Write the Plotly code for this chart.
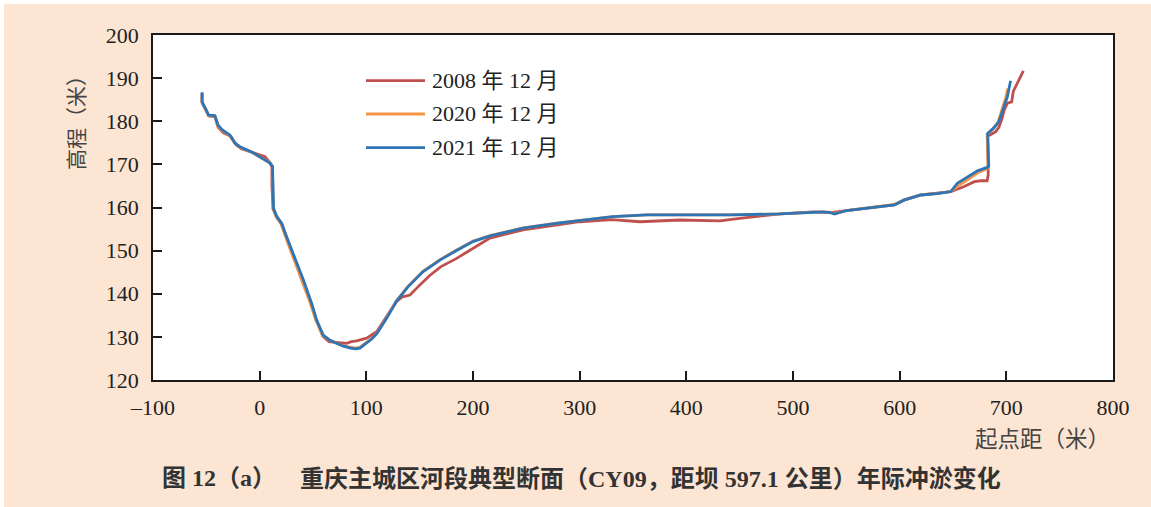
import plotly.graph_objects as go

# ---------------- data ----------------
x_2021 = [-54, -54, -50, -48, -42, -39, -35, -28, -23, -18.5, -7.5, 0, 5, 9.7, 12, 12.5, 13, 16, 20.6, 24,
          31.5, 41, 48.7, 53.4, 59.6, 66, 72, 78, 85, 90, 94, 100, 105, 110, 119, 128, 139, 153, 169, 185,
          200, 216, 247, 278, 300, 331, 363, 394, 441, 488, 519, 528, 535, 539, 550, 582, 595, 604, 620, 635,
          648, 654, 663, 673, 682, 683.5, 682.5, 688, 693, 698, 701, 704]
y_2021 = [186.7, 184.5, 182.6, 181.4, 181.3, 179.1, 178.0, 176.8, 174.9, 174.1, 172.9, 171.8, 171.0, 170.3, 169.5, 165.0, 159.8, 157.9, 156.3, 154.0,
          149.4, 143.2, 137.8, 133.9, 130.4, 129.2, 128.5, 127.9, 127.4, 127.2, 127.4, 128.5, 129.5, 130.8, 134.3, 138.2, 141.6, 145.1, 147.8, 150.1,
          152.1, 153.4, 155.2, 156.3, 156.9, 157.9, 158.3, 158.3, 158.3, 158.5, 159.0, 159.0, 158.8, 158.5, 159.3, 160.2, 160.6, 161.7, 162.9, 163.2,
          163.7, 165.6, 167.0, 168.5, 169.3, 169.6, 177.2, 178.4, 179.9, 183.4, 185.7, 189.4]

x_2020 = [-54, -54, -50, -48, -42, -39, -35, -28, -23, -18.5, -7.5, 0, 5, 9.7, 12, 12.3, 12.8, 15.5, 20, 23,
          30, 39.5, 47.5, 52.5, 59, 66, 72, 78, 85, 90, 94, 100, 105, 110, 119, 128, 139, 153, 169, 185,
          200, 216, 247, 278, 300, 331, 363, 394, 441, 488, 519, 528, 535, 539, 550, 582, 595, 604, 620, 635,
          648, 655, 664, 673, 681, 683, 682, 687, 692, 697, 699.5, 701.4]
y_2020 = [186.4, 184.4, 182.5, 181.3, 181.2, 178.8, 177.8, 176.6, 174.8, 174.0, 172.8, 171.8, 171.2, 170.4, 169.6, 165.0, 159.7, 157.8, 156.2, 154.0,
          149.4, 143.2, 137.8, 133.9, 130.4, 129.2, 128.5, 127.9, 127.6, 127.4, 127.6, 128.6, 129.6, 130.9, 134.4, 138.3, 141.7, 145.2, 147.9, 150.2,
          152.2, 153.5, 155.3, 156.4, 157.0, 157.9, 158.3, 158.3, 158.3, 158.5, 159.0, 159.0, 158.9, 158.6, 159.3, 160.2, 160.7, 161.8, 163.0, 163.2,
          163.7, 165.0, 166.5, 168.0, 168.9, 169.3, 176.9, 178.1, 179.6, 183.2, 185.5, 187.6]

x_2008 = [-54, -54, -50, -47, -42, -39, -34, -27, -22, -17, -7, 0, 5, 9, 11.5, 11.5, 12.5, 16, 20.6, 24,
          31, 40, 48, 53, 59, 65, 69, 75, 81.6, 86, 90.9, 100.3, 109.7, 119, 128.4, 134, 140.9, 150, 159.7, 170,
          184.7, 197.1, 215.9, 247, 278, 300, 330, 356.6, 394, 431.5, 450, 488, 519, 535, 550, 582, 595, 604, 620, 648,
          660, 670, 676, 682, 683, 682.5, 684.6, 690, 693, 696, 698, 701, 705, 706.5, 716]
y_2008 = [186.5, 184.3, 182.3, 181.2, 181.1, 178.6, 177.3, 176.5, 174.5, 173.6, 172.8, 172.2, 171.8, 170.6, 169.5, 165.0, 159.6, 157.9, 156.3, 154.0,
          149.0, 143.0, 137.8, 134.0, 130.2, 128.9, 128.8, 128.7, 128.5, 128.9, 129.1, 129.7, 131.2, 134.7, 138.2, 139.3, 139.7, 142.0, 144.3, 146.3,
          148.2, 150.1, 152.9, 154.8, 155.9, 156.7, 157.2, 156.7, 157.1, 156.9, 157.5, 158.5, 159.0, 158.8, 159.3, 160.2, 160.6, 161.7, 162.9, 163.7,
          164.8, 166.0, 166.2, 166.2, 167.5, 176.8, 176.8, 177.6, 178.6, 180.7, 182.6, 184.2, 184.5, 186.9, 191.7]

series_names = ["2008 年 12 月", "2020 年 12 月", "2021 年 12 月"]
series_colors = ["#c0504d", "#f79646", "#2e75b6"]

x_tick_vals = [-100, 0, 100, 200, 300, 400, 500, 600, 700, 800]
x_tick_text = ["–100", "0", "100", "200", "300", "400", "500", "600", "700", "800"]
y_tick_vals = [120, 130, 140, 150, 160, 170, 180, 190, 200]

x_title = "起点距（米）"
y_title = "高程（米）"
caption_a = "图 12（a）"
caption_b = "重庆主城区河段典型断面（CY09，距坝 597.1 公里）年际冲淤变化"

for a, b in [(x_2021, y_2021), (x_2020, y_2020), (x_2008, y_2008)]:
    assert len(a) == len(b)

# ---------------- figure ----------------
OFF = 4                       # page margin (white border) in px
W, H = 1151 - OFF, 507 - OFF
# plot area in page pixels: left 153, right 1113, top 35, bottom 380
ML, MT = 153 - OFF, 35 - OFF
MR = W - (1113 - OFF)
MB = H - (380 - OFF)
PW, PH = W - ML - MR, H - MT - MB

SERIF = "Liberation Serif, Noto Sans CJK SC, serif"
CJK = "Noto Sans CJK SC, sans-serif"

fig = go.Figure()
for xs, ys, name, col in zip([x_2008, x_2020, x_2021], [y_2008, y_2020, y_2021], series_names, series_colors):
    fig.add_trace(go.Scatter(x=xs, y=ys, mode="lines", name=name,
                             line=dict(color=col, width=2.8), showlegend=False))

def px2paper_x(px):          # page px -> paper fraction
    return (px - OFF - ML) / PW

def py2paper_y(py):
    return (H - MB - (py - OFF)) / PH

# manual legend (long line samples like the original)
leg_y = [80.7, 114, 147.7]
for name, col, ly in zip(series_names, series_colors, leg_y):
    fig.add_shape(type="line", xref="paper", yref="paper",
                  x0=px2paper_x(366), x1=px2paper_x(425),
                  y0=py2paper_y(ly), y1=py2paper_y(ly),
                  line=dict(color=col, width=2.8))
    fig.add_annotation(xref="paper", yref="paper", x=px2paper_x(430), y=py2paper_y(ly),
                       text=name, showarrow=False, xanchor="left", yanchor="middle",
                       font=dict(family=SERIF, size=22, color="#222222"))

fig.add_annotation(xref="paper", yref="paper", x=px2paper_x(75), y=py2paper_y(118),
                   text=y_title, textangle=-90, showarrow=False,
                   xanchor="center", yanchor="middle",
                   font=dict(family=CJK, size=21, color="#444444"))
fig.add_annotation(xref="paper", yref="paper", x=px2paper_x(1112), y=py2paper_y(437),
                   text=x_title, showarrow=False, xanchor="right", yanchor="middle",
                   font=dict(family=CJK, size=22.5, color="#444444"))
fig.add_annotation(xref="paper", yref="paper", x=px2paper_x(160), y=py2paper_y(478),
                   text="<b>" + caption_a + "</b>", showarrow=False, xanchor="left", yanchor="middle",
                   font=dict(family=SERIF, size=24, color="#333333"))
fig.add_annotation(xref="paper", yref="paper", x=px2paper_x(298), y=py2paper_y(478),
                   text="<b>" + caption_b + "</b>", showarrow=False, xanchor="left", yanchor="middle",
                   font=dict(family=SERIF, size=24, color="#333333"))

axis_common = dict(showgrid=False, zeroline=False, showline=True, linecolor="#1a1a1a", linewidth=1.5,
                   mirror=True, ticks="inside", ticklen=9, tickwidth=1.5, tickcolor="#1a1a1a",
                   tickfont=dict(family=SERIF, size=22, color="#222222"))

fig.update_xaxes(range=[-100, 800], tickvals=x_tick_vals, ticktext=x_tick_text,
                 ticklabelstandoff=7, **axis_common)
fig.update_yaxes(range=[120, 200], tickvals=y_tick_vals, ticklabelstandoff=8, **axis_common)

fig.update_layout(width=W, height=H, margin=dict(l=ML, r=MR, t=MT, b=MB),
                  paper_bgcolor="#fde5d3", plot_bgcolor="#ffffff", showlegend=False)

fig.write_html("out.html", post_script="document.body.style.margin='%dpx 0 0 %dpx';" % (OFF, OFF))
